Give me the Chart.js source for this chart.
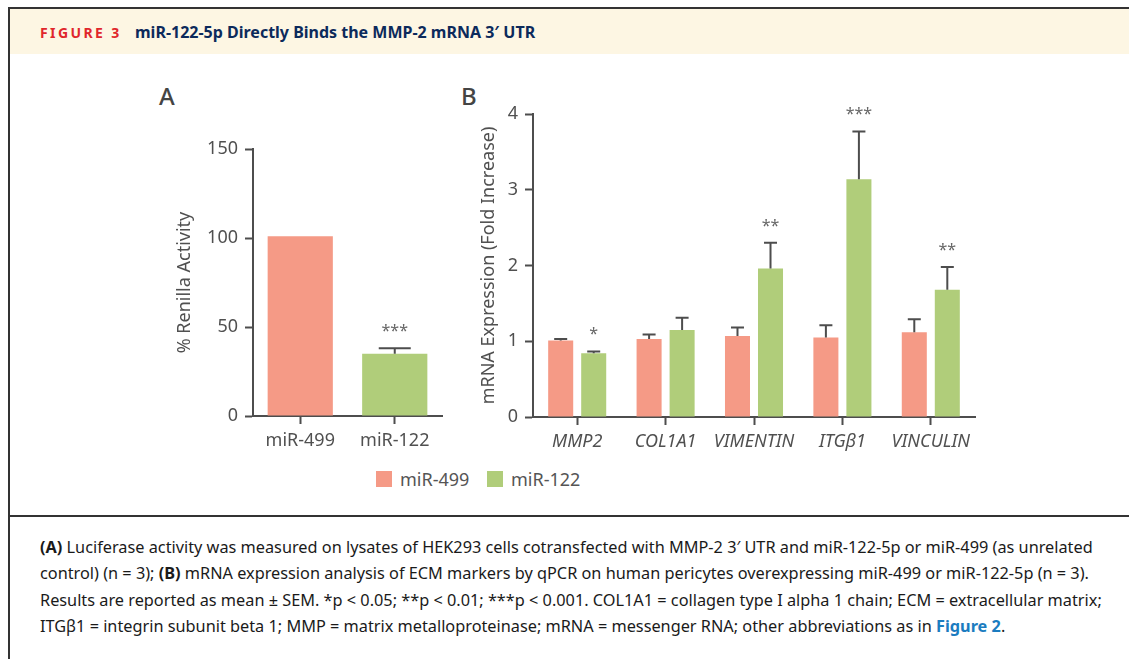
<!DOCTYPE html>
<html>
<head>
<meta charset="utf-8">
<script src="https://cdn.jsdelivr.net/npm/chart.js@4"></script>
<style>
  html, body { margin:0; padding:0; background:#fff; width:1129px; height:659px; overflow:hidden; font-family:"Noto Sans", sans-serif; }
  .abs { position:absolute; }
  #frame { left:8px; top:7px; width:1200px; height:700px; border:2px solid #333; box-sizing:border-box; }
  #header { left:10px; top:9px; width:1120px; height:45px; background:#fdf6e3; }
  #figlabel { left:40px; top:10px; line-height:45px; font-size:14px; font-weight:700; color:#e0262b; letter-spacing:2.4px; white-space:nowrap; }
  #figtitle { left:135px; top:10px; line-height:45px; font-size:16px; font-weight:700; color:#0c2a5b; white-space:nowrap; }
  #sep { left:10px; top:515px; width:1120px; height:2px; background:#333; }
  .panel { font-size:24px; font-weight:500; color:#444; }
  #caption { left:40px; top:534px; font-size:16.3px; line-height:26.3px; color:#1a1a1a; white-space:nowrap; }
  #caption b { font-weight:700; }
  #caption .ref { color:#1b7cc0; font-weight:700; }
  .leg-sw { width:16px; height:16px; }
  .leg-tx { font-size:18px; color:#555; line-height:22px; white-space:nowrap; }
</style>
</head>
<body>
<div id="frame" class="abs"></div>
<div id="header" class="abs"></div>
<div id="figlabel" class="abs">FIGURE 3</div>
<div id="figtitle" class="abs">miR-122-5p Directly Binds the MMP-2 mRNA 3′ UTR</div>
<div class="abs panel" style="left:159px;top:79px;">A</div>
<div class="abs panel" style="left:461px;top:79px;">B</div>
<canvas id="chartA" class="abs" width="300" height="380" style="left:150px;top:80px;"></canvas>
<canvas id="chartB" class="abs" width="540" height="380" style="left:460px;top:80px;"></canvas>
<div class="abs leg-sw" style="left:376px;top:471px;background:#f59a86;"></div>
<div class="abs leg-tx" style="left:400px;top:468px;">miR-499</div>
<div class="abs leg-sw" style="left:487px;top:471px;background:#b0cd7a;"></div>
<div class="abs leg-tx" style="left:511px;top:468px;">miR-122</div>
<div id="sep" class="abs"></div>
<div id="caption" class="abs"><b>(A)</b> Luciferase activity was measured on lysates of HEK293 cells cotransfected with MMP-2 3′ UTR and miR-122-5p or miR-499 (as unrelated<br>control) (n = 3); <b>(B)</b> mRNA expression analysis of ECM markers by qPCR on human pericytes overexpressing miR-499 or miR-122-5p (n = 3).<br>Results are reported as mean ± SEM. *p &lt; 0.05; **p &lt; 0.01; ***p &lt; 0.001. COL1A1 = collagen type I alpha 1 chain; ECM = extracellular matrix;<br>ITGβ1 = integrin subunit beta 1; MMP = matrix metalloproteinase; mRNA = messenger RNA; other abbreviations as in <span class="ref">Figure 2</span>.</div>

<script>
// ---- Data ----
const categoriesA = ['miR-499', 'miR-122'];
const valuesA = [101, 35];
const errorsA = [0, 3];
const sigA = ['', '***'];
const ticksA = [0, 50, 100, 150];

const genes = ['MMP2', 'COL1A1', 'VIMENTIN', 'ITGβ1', 'VINCULIN'];
const mir499 = [1.01, 1.03, 1.07, 1.05, 1.12];
const mir499Err = [0.02, 0.06, 0.11, 0.16, 0.17];
const mir122 = [0.84, 1.15, 1.96, 3.14, 1.68];
const mir122Err = [0.025, 0.16, 0.34, 0.63, 0.30];
const sig499 = ['', '', '', '', ''];
const sig122 = ['*', '', '**', '***', '**'];
const ticksB = [0, 1, 2, 3, 4];

const ORANGE = '#f59a86';
const GREEN = '#b0cd7a';
const AXIS = '#4d4d4d';
const TEXT = '#505050';
const FONT = '"Noto Sans", sans-serif';

const errorBarPlugin = {
  id: 'errorBars',
  afterDatasetsDraw(chart, args, opts) {
    const ctx = chart.ctx;
    const y = chart.scales.y;
    chart.data.datasets.forEach((ds, di) => {
      const meta = chart.getDatasetMeta(di);
      meta.data.forEach((bar, i) => {
        const v = ds.data[i];
        const e = ds.errors ? ds.errors[i] : 0;
        const top = y.getPixelForValue(v + e);
        if (e > 0) {
          ctx.save();
          ctx.strokeStyle = AXIS;
          ctx.lineWidth = 2;
          ctx.beginPath();
          ctx.moveTo(bar.x, y.getPixelForValue(v));
          ctx.lineTo(bar.x, top);
          ctx.moveTo(bar.x - opts.cap / 2, top);
          ctx.lineTo(bar.x + opts.cap / 2, top);
          ctx.stroke();
          ctx.restore();
        }
        const s = ds.sig ? ds.sig[i] : '';
        if (s) {
          ctx.save();
          ctx.fillStyle = '#666';
          ctx.font = '16px ' + FONT;
          ctx.textAlign = 'center';
          ctx.textBaseline = 'alphabetic';
          ctx.fillText(s, bar.x, top - 12);
          ctx.restore();
        }
      });
    });
  }
};

function scales(yMax, step, yWidth, xHeight, yTitle, titlePad, italic) {
  return {
    x: {
      offset: true,
      grid: { display: true, drawOnChartArea: false, drawTicks: true, tickLength: 8, tickWidth: 2, tickColor: AXIS, offset: false },
      border: { display: true, color: AXIS, width: 2 },
      ticks: { color: TEXT, padding: 6, font: { family: FONT, size: 18, style: italic ? 'italic' : 'normal' }, maxRotation: 0, autoSkip: false },
      afterFit(s) { s.height = xHeight; }
    },
    y: {
      min: 0, max: yMax,
      grid: { display: true, drawOnChartArea: false, drawTicks: true, tickLength: 8, tickWidth: 2, tickColor: AXIS },
      border: { display: true, color: AXIS, width: 2 },
      ticks: { color: TEXT, padding: 7, stepSize: step, font: { family: FONT, size: 18 } },
      title: { display: true, text: yTitle, color: TEXT, font: { family: FONT, size: 18 }, padding: { top: titlePad, bottom: 0 } },
      afterFit(s) { s.width = yWidth; }
    }
  };
}

new Chart(document.getElementById('chartA'), {
  type: 'bar',
  data: {
    labels: categoriesA,
    datasets: [{ label: 'A', data: valuesA, errors: errorsA, sig: sigA, backgroundColor: [ORANGE, GREEN], barPercentage: 0.69, categoryPercentage: 1 }]
  },
  options: {
    responsive: false, animation: false,
    layout: { padding: { left: 0, top: 69, right: 8, bottom: 0 } },
    plugins: { legend: { display: false }, tooltip: { enabled: false }, errorBars: { cap: 32 } },
    scales: scales(150, 50, 103, 44, '% Renilla Activity', 24, false)
  },
  plugins: [errorBarPlugin]
});

new Chart(document.getElementById('chartB'), {
  type: 'bar',
  data: {
    labels: genes,
    datasets: [
      { label: 'miR-499', data: mir499, errors: mir499Err, sig: sig499, backgroundColor: ORANGE, barPercentage: 0.758, categoryPercentage: 0.747 },
      { label: 'miR-122', data: mir122, errors: mir122Err, sig: sig122, backgroundColor: GREEN, barPercentage: 0.758, categoryPercentage: 0.747 }
    ]
  },
  options: {
    responsive: false, animation: false,
    layout: { padding: { left: 0, top: 34, right: 25, bottom: 0 } },
    plugins: { legend: { display: false }, tooltip: { enabled: false }, errorBars: { cap: 13 } },
    scales: scales(4, 1, 73, 43, 'mRNA Expression (Fold Increase)', 18, true)
  },
  plugins: [errorBarPlugin]
});
</script>
</body>
</html>
